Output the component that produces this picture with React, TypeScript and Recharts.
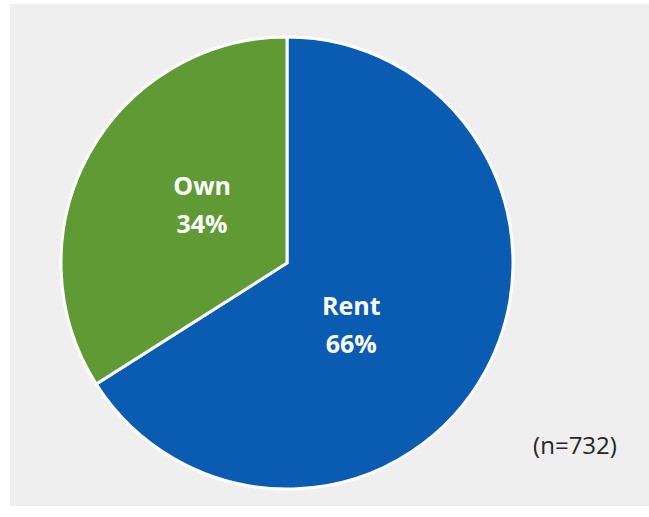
import React from "react";
import { PieChart, Pie, Cell } from "recharts";

const categories = ["Rent", "Own"];
const values = [66, 34];
const colors = ["#0a5cb2", "#5f9a35"];
const sampleNote = "(n=732)";

const data = categories.map((name, i) => ({ name, value: values[i] }));

const RADIAN = Math.PI / 180;

const renderLabel = (props: any) => {
  const { cx, cy, outerRadius, midAngle, name, value } = props;
  // shift label angle/radius toward the visual centre of each slice
  const angle = midAngle - 10;
  const r = outerRadius * (name === "Rent" ? 0.365 : 0.482);
  const x = cx + r * Math.cos(-angle * RADIAN);
  const y = cy + r * Math.sin(-angle * RADIAN);
  return (
    <text
      x={x}
      y={y}
      fill="#ffffff"
      textAnchor="middle"
      fontFamily="'Open Sans', sans-serif"
      fontWeight={700}
      fontSize={25}
    >
      <tspan x={x} dy={0}>{name}</tspan>
      <tspan x={x} dy={38}>{`${value}%`}</tspan>
    </text>
  );
};

export default function App() {
  return (
    <div style={{ position: "absolute", left: 0, top: 0, width: 649, height: 517, background: "#ffffff" }}>
      <div style={{ position: "absolute", left: 10, top: 4, width: 639, height: 502, background: "#efefef" }} />
      <div style={{ position: "absolute", left: 0, top: 0 }}>
        <PieChart width={649} height={517} margin={{ top: 0, right: 0, bottom: 0, left: 0 }}>
          <Pie
            data={data}
            dataKey="value"
            nameKey="name"
            cx={287}
            cy={263}
            outerRadius={226}
            startAngle={90}
            endAngle={-270}
            stroke="#ffffff"
            strokeWidth={3}
            label={renderLabel}
            labelLine={false}
            isAnimationActive={false}
          >
            {data.map((d, i) => (
              <Cell key={d.name} fill={colors[i]} />
            ))}
          </Pie>
          <text
            x={575}
            y={454}
            textAnchor="middle"
            fill="#262626"
            fontFamily="'Open Sans', sans-serif"
            fontSize={24}
          >
            {sampleNote}
          </text>
        </PieChart>
      </div>
    </div>
  );
}
